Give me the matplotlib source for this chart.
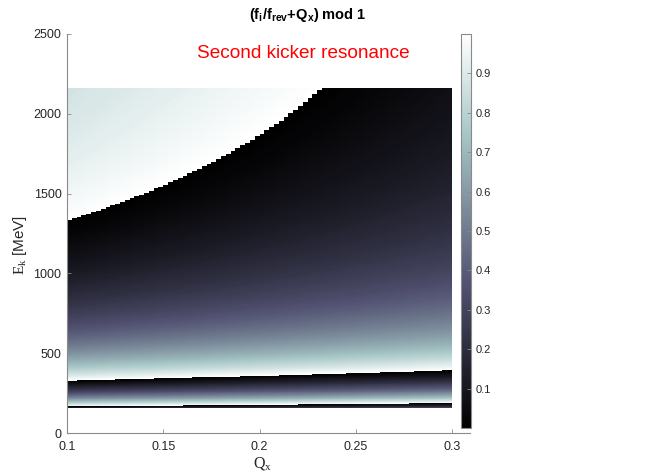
import numpy as np
import matplotlib
matplotlib.use("Agg")
import matplotlib.pyplot as plt

# ---- data ----
qx = np.round(np.arange(0.1, 0.3 + 1e-9, 0.0025), 5)      # Q_x grid (columns)
ek_mev = np.arange(158.0, 2160.0 + 1e-9, 2.0)              # kinetic energy grid (rows)
rest_mass_mev = 1100.0                                     # fitted to the resonance lines
ratio_scale = 2.23                                         # f_i/f_rev = scale/beta + offset
ratio_offset = 0.40

x_ticks = [0.1, 0.15, 0.2, 0.25, 0.3]
x_ticklabels = ["0.1", "0.15", "0.2", "0.25", "0.3"]
y_ticks = [0, 500, 1000, 1500, 2000, 2500]
cb_ticks = [0.1, 0.2, 0.3, 0.4, 0.5, 0.6, 0.7, 0.8, 0.9]

title_text = r"$\mathbf{(f_i/f_{rev}{+}Q_x)\ mod\ 1}$"
note_text = "Second kicker resonance"

# ---- values: (f_i/f_rev + Q_x) mod 1 ----
gamma = 1.0 + ek_mev / rest_mass_mev
beta = np.sqrt(1.0 - 1.0 / gamma**2)
f_ratio = ratio_scale / beta + ratio_offset
Q, R = np.meshgrid(qx, f_ratio)
vals = np.mod(R + Q, 1.0)

# ---- styling ----
plt.rcParams["font.family"] = ["Liberation Sans", "DejaVu Sans"]
plt.rcParams["mathtext.fontset"] = "custom"
plt.rcParams["mathtext.rm"] = "Liberation Serif"
plt.rcParams["mathtext.it"] = "Liberation Serif"
plt.rcParams["mathtext.bf"] = "Liberation Sans:bold"

W, H = 654, 475
fig = plt.figure(figsize=(W / 100, H / 100), dpi=100)
ax = fig.add_axes([67 / W, (H - 433) / H, (470 - 67) / W, 399 / H])

mesh = ax.pcolormesh(qx, ek_mev, vals[:-1, :-1], cmap="bone", vmin=0, vmax=1,
                     shading="flat", rasterized=True)

ax.set_xlim(0.1, 0.1 + 0.2 * 403 / 385)
ax.set_ylim(0, 2500)
ax.set_xticks(x_ticks)
ax.set_xticklabels(x_ticklabels)
ax.set_yticks(y_ticks)
ax.spines["top"].set_visible(False)
ax.spines["right"].set_visible(False)
for s in ("left", "bottom"):
    ax.spines[s].set_color("#8a8a8a")
    ax.spines[s].set_linewidth(0.8)
ax.tick_params(direction="in", length=3, width=0.6, color="#8a8a8a",
               labelsize=9, labelcolor="#262626")
ax.tick_params(axis="x", pad=6)
ax.tick_params(axis="y", pad=4)

fig.text(263 / W, 1 - 463 / H, r"$\mathrm{Q_x}$", fontsize=11.5, color="#262626",
         ha="center", va="center")
fig.text(20 / W, 1 - 245 / H, r"$\mathrm{E_k}$ [MeV]", fontsize=11, color="#262626",
         ha="center", va="center", rotation=90)
fig.text(308 / W, 1 - 15 / H, title_text, fontsize=10.5, color="black",
         ha="center", va="center")
fig.text(303.5 / W, 1 - 53 / H, note_text, fontsize=13.7, color="red",
         ha="center", va="center")

cax = fig.add_axes([461 / W, (H - 428) / H, 10 / W, 394 / H])
cb = fig.colorbar(mesh, cax=cax, ticks=cb_ticks)
cb.ax.set_yticklabels([f"{t:.1f}" for t in cb_ticks])
cb.outline.set_edgecolor("#8a8a8a")
cb.outline.set_linewidth(0.8)
cb.ax.tick_params(direction="in", length=3, width=0.6, color="#8a8a8a",
                  labelsize=8, labelcolor="#262626", pad=3)

fig.savefig("out.png", dpi=100)
